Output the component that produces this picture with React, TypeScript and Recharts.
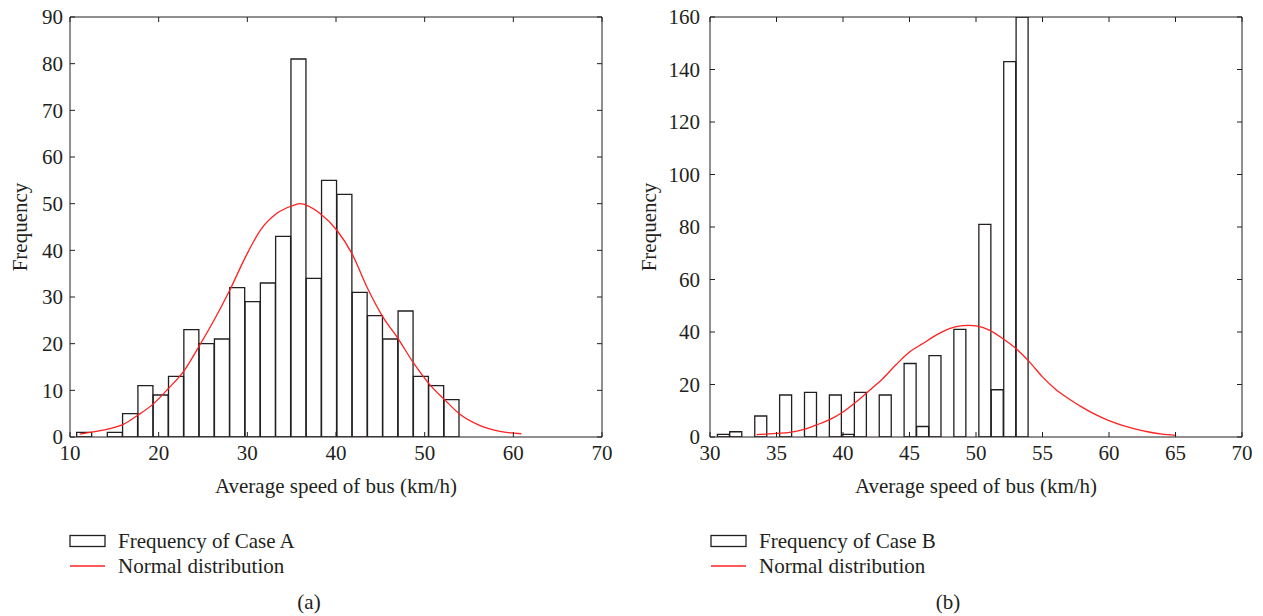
import { ComposedChart, Bar, Line, XAxis, YAxis } from 'recharts';

// Case A: 25 bins of average bus speed (km/h), bin centres and counts
const caseABinCenters = [
  11.61, 13.34, 15.07, 16.79, 18.52, 20.24, 21.97, 23.7, 25.42, 27.15, 28.87, 30.6, 32.33,
  34.05, 35.78, 37.5, 39.23, 40.96, 42.68, 44.41, 46.13, 47.86, 49.59, 51.31, 53.04,
];
const caseAFrequency = [
  1, 0, 1, 5, 11, 9, 13, 23, 20, 21, 32, 29, 33, 43, 81, 34, 55, 52, 31, 26, 21, 27, 13, 11, 8,
];
// fitted normal curve for case A
const caseACurveSpeed = [
  11.1, 12.6, 14.5, 16.0, 17.6, 19.4, 21.1, 22.9, 24.6, 26.35, 28.0, 29.8, 31.5, 33.3, 35.0,
  35.9, 38.2, 40.1, 41.8, 43.5, 45.3, 47.0, 48.8, 50.5, 52.3, 53.9, 56.2, 58.5, 60.9,
];
const caseACurveValue = [
  0.6, 1.1, 1.8, 2.7, 4.6, 7.1, 10.4, 14.3, 19.6, 25.4, 31.4, 38.6, 44.4, 47.9, 49.5, 50.0,
  47.9, 44.3, 39.3, 32.1, 25.7, 21.1, 15.7, 11.4, 7.9, 5.0, 2.5, 1.2, 0.7,
];
const caseAXTicks = [10, 20, 30, 40, 50, 60, 70];
const caseAYTicks = [0, 10, 20, 30, 40, 50, 60, 70, 80, 90];

// Case B
const caseBBinCenters = [
  31.02, 31.95, 32.89, 33.83, 34.76, 35.7, 36.63, 37.57, 38.51, 39.44, 40.38, 41.32, 42.25,
  43.19, 44.12, 45.06, 46.0, 46.93, 47.87, 48.8, 49.74, 50.68, 51.61, 52.55, 53.48,
];
const caseBFrequency = [
  1, 2, 0, 8, 0, 16, 0, 17, 0, 16, 1, 17, 0, 16, 0, 28, 4, 31, 0, 41, 0, 81, 18, 143, 160,
];
const caseBCurveSpeed = [
  33.5, 35, 36, 37, 38, 39, 40, 41, 42, 43, 44, 45, 46, 47, 48, 49, 49.5, 50, 51, 52, 53, 54,
  55, 56, 57, 58, 59, 60, 61, 62, 63, 64, 65,
];
const caseBCurveValue = [
  0.9, 1.4, 1.8, 2.8, 4.6, 6.6, 9.5, 13.4, 17.8, 22.3, 27.6, 32.4, 35.6, 38.8, 41.3, 42.4, 42.5,
  42.3, 40.7, 37.5, 33.7, 28.7, 22.9, 18.1, 14.5, 11.3, 8.5, 6.2, 4.4, 3.0, 1.9, 1.1, 0.65,
];
const caseBXTicks = [30, 35, 40, 45, 50, 55, 60, 65, 70];
const caseBYTicks = [0, 20, 40, 60, 80, 100, 120, 140, 160];

const FONT = '"Liberation Serif", "Times New Roman", serif';
const INK = '#231f20';
const RED = '#ff2020';
const FS = 21;

interface HistProps {
  centers: number[];
  counts: number[];
  curveX: number[];
  curveY: number[];
  xDomain: [number, number];
  xTicks: number[];
  yDomain: [number, number];
  yTicks: number[];
  width: number;
  axisWidth: number;
  rightMargin: number;
  yTickMargin: number;
  yLabelOffset: number;
}

const noTick = () => <g />;

// Bars sit on the bottom/left axes; the curve uses the top/right pair
// (same domains) so that the frame gets inward ticks on all four sides.
// The top/right axes get a 1px box, since a zero-sized axis is not drawn.
function Histogram(p: HistProps) {
  const bins = p.centers.map((speed, i) => ({ speed, freq: p.counts[i] }));
  const curve = p.curveX.map((speed, i) => ({ speed, density: p.curveY[i] }));
  const tickStyle = { fill: INK, fontSize: FS, fontFamily: FONT };

  return (
    <ComposedChart
      width={p.width}
      height={500}
      data={bins}
      margin={{ top: 16, right: p.rightMargin - 1, bottom: 0, left: 0 }}
      barCategoryGap={0}
      barGap={0}
    >
      <XAxis
        xAxisId="speed"
        type="number"
        dataKey="speed"
        domain={p.xDomain}
        ticks={p.xTicks}
        interval={0}
        allowDataOverflow
        height={63}
        stroke={INK}
        tickSize={-5}
        tickMargin={13}
        tick={tickStyle}
        label={{
          value: 'Average speed of bus (km/h)',
          position: 'insideBottom',
          offset: 7,
          fill: INK,
          fontSize: FS,
          fontFamily: FONT,
        }}
      />
      <XAxis
        xAxisId="top"
        orientation="top"
        type="number"
        dataKey="speed"
        domain={p.xDomain}
        ticks={p.xTicks}
        interval={0}
        allowDataOverflow
        height={1}
        stroke={INK}
        tickSize={-5}
        tick={noTick}
      />
      <YAxis
        yAxisId="freq"
        type="number"
        domain={p.yDomain}
        ticks={p.yTicks}
        interval={0}
        allowDataOverflow
        width={p.axisWidth}
        stroke={INK}
        tickSize={-5}
        tickMargin={p.yTickMargin}
        tick={tickStyle}
        label={{
          value: 'Frequency',
          angle: -90,
          position: 'insideLeft',
          offset: p.yLabelOffset,
          fill: INK,
          fontSize: FS,
          fontFamily: FONT,
          style: { textAnchor: 'middle' },
        }}
      />
      <YAxis
        yAxisId="right"
        orientation="right"
        type="number"
        domain={p.yDomain}
        ticks={p.yTicks}
        interval={0}
        allowDataOverflow
        width={1}
        stroke={INK}
        tickSize={-5}
        tick={noTick}
      />
      <Bar
        xAxisId="speed"
        yAxisId="freq"
        dataKey="freq"
        fill="none"
        stroke={INK}
        strokeWidth={1.3}
        isAnimationActive={false}
      />
      <Line
        xAxisId="top"
        yAxisId="right"
        data={curve}
        dataKey="density"
        type="monotone"
        stroke={RED}
        strokeWidth={1.3}
        dot={false}
        activeDot={false}
        isAnimationActive={false}
      />
    </ComposedChart>
  );
}

function LegendBlock({ x, label }: { x: number; label: string }) {
  return (
    <g fontFamily={FONT} fontSize={FS} fill={INK}>
      <rect x={x} y={535.5} width={35} height={11} fill="none" stroke={INK} strokeWidth={1.3} />
      <text x={x + 48} y={541} dominantBaseline="central">
        {label}
      </text>
      <line x1={x} x2={x + 35} y1={566} y2={566} stroke={RED} strokeWidth={1.3} />
      <text x={x + 48} y={566} dominantBaseline="central">
        Normal distribution
      </text>
    </g>
  );
}

export default function App() {
  return (
    <div style={{ position: 'absolute', left: 0, top: 0, width: 1263, height: 616, background: '#fff' }}>
      <svg width={1263} height={616} style={{ position: 'absolute', left: 0, top: 0 }}>
        <LegendBlock x={70} label="Frequency of Case A" />
        <LegendBlock x={711} label="Frequency of Case B" />
        <text x={309} y={602} textAnchor="middle" dominantBaseline="central" fontFamily={FONT} fontSize={FS} fill={INK}>
          (a)
        </text>
        <text x={948} y={602} textAnchor="middle" dominantBaseline="central" fontFamily={FONT} fontSize={FS} fill={INK}>
          (b)
        </text>
      </svg>
      <div style={{ position: 'absolute', left: 0, top: 0 }}>
        <Histogram
          centers={caseABinCenters}
          counts={caseAFrequency}
          curveX={caseACurveSpeed}
          curveY={caseACurveValue}
          xDomain={[10, 70]}
          xTicks={caseAXTicks}
          yDomain={[0, 90]}
          yTicks={caseAYTicks}
          width={640}
          axisWidth={70}
          rightMargin={38}
          yTickMargin={12}
          yLabelOffset={20}
        />
      </div>
      <div style={{ position: 'absolute', left: 625, top: 0 }}>
        <Histogram
          centers={caseBBinCenters}
          counts={caseBFrequency}
          curveX={caseBCurveSpeed}
          curveY={caseBCurveValue}
          xDomain={[30, 70]}
          xTicks={caseBXTicks}
          yDomain={[0, 160]}
          yTicks={caseBYTicks}
          width={638}
          axisWidth={85}
          rightMargin={21}
          yTickMargin={15}
          yLabelOffset={24}
        />
      </div>
    </div>
  );
}
